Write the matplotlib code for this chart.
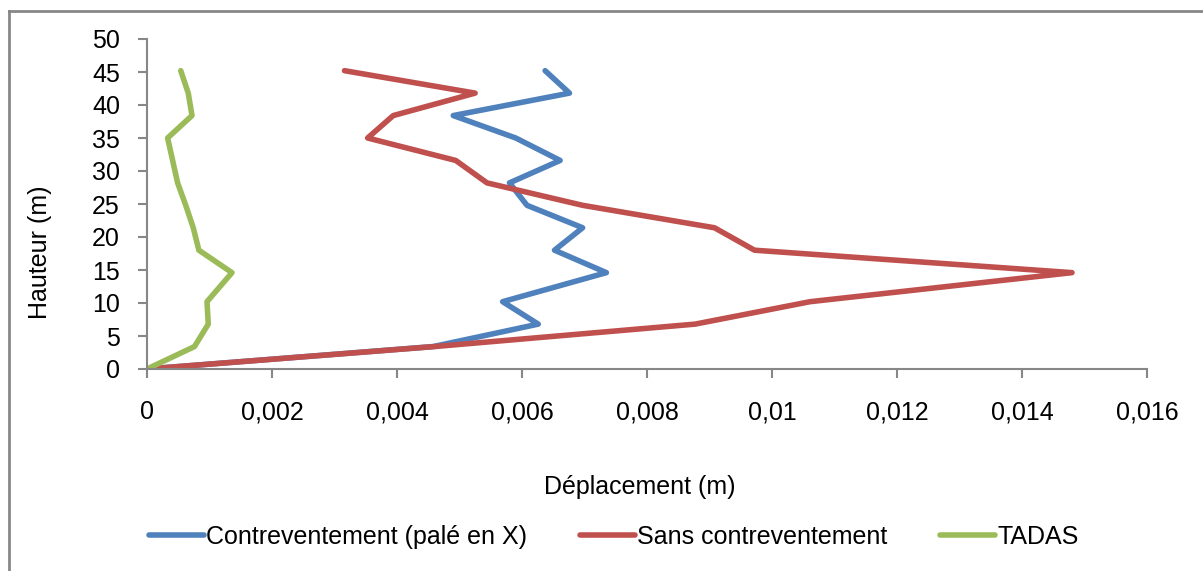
import matplotlib
matplotlib.use("Agg")
from matplotlib import pyplot as plt
from matplotlib.lines import Line2D
from matplotlib.ticker import FuncFormatter

# storey heights (m)
hauteur = [0, 3.4, 6.8, 10.2, 14.6, 18.0, 21.4, 24.8, 28.2, 31.6, 35.0, 38.4, 41.8, 45.2]

# lateral displacement (m) per series
depl_x = [0, 0.00458, 0.00626, 0.00569, 0.00735, 0.00652, 0.00697, 0.00608,
          0.00580, 0.00661, 0.00590, 0.00490, 0.00676, 0.00637]
depl_sans = [0, 0.00460, 0.00877, 0.01061, 0.01480, 0.00972, 0.00908, 0.00697,
             0.00544, 0.00494, 0.00353, 0.00394, 0.00525, 0.00316]
depl_tadas = [0, 0.00076, 0.00098, 0.00096, 0.00136, 0.00083, 0.00074, 0.00062,
              0.00049, 0.00041, 0.00033, 0.00072, 0.00066, 0.00054]

series_names = ["Contreventement (palé en X)", "Sans contreventement", "TADAS"]
colors = ["#4F81BD", "#C0504D", "#9BBB59"]

plt.rcParams['font.family'] = ['Liberation Sans', 'DejaVu Sans']
fs = 18
grey = "#878787"

fig = plt.figure(figsize=(12.03, 5.71), dpi=100)
ax = fig.add_axes([147 / 1203, 1 - 369 / 571, 1000 / 1203, 330 / 571])

for xs, name, c in zip([depl_x, depl_sans, depl_tadas], series_names, colors):
    ax.plot(xs, hauteur, color=c, lw=4, label=name,
            solid_joinstyle="round", solid_capstyle="round")

ax.set_xlim(0, 0.016)
ax.set_ylim(0, 50)
ax.set_xticks([i * 0.002 for i in range(9)])
ax.set_yticks(range(0, 51, 5))
ax.xaxis.set_major_formatter(FuncFormatter(lambda v, p: ("%g" % round(v, 4)).replace(".", ",")))

for s in ["top", "right"]:
    ax.spines[s].set_visible(False)
for s in ["left", "bottom"]:
    ax.spines[s].set_color(grey)
    ax.spines[s].set_linewidth(1.5)
ax.tick_params(axis="both", colors=grey, length=6.5, width=1.5, labelcolor="black",
               labelsize=fs)
ax.tick_params(axis="y", pad=13)
ax.tick_params(axis="x", pad=16)

ax.set_xlabel("Déplacement (m)", fontsize=fs)
ax.xaxis.set_label_coords(0.493, -0.358)
ax.xaxis.label.set_va("center")
ax.set_ylabel("Hauteur (m)", fontsize=fs)
ax.yaxis.set_label_coords(-0.107, 0.355)
ax.yaxis.label.set_va("center")

fig.legend(loc="center", bbox_to_anchor=(614 / 1203, 1 - 537 / 571), ncol=3,
           frameon=False, fontsize=fs, handlelength=2.2, handletextpad=0.1,
           columnspacing=2.1)

# chart area border (left and top edges visible)
fig.add_artist(Line2D([8.5 / 1203, 8.5 / 1203], [0, 1 - 10.5 / 571],
                      transform=fig.transFigure, color=grey, lw=2))
fig.add_artist(Line2D([8.5 / 1203, 1], [1 - 10.5 / 571, 1 - 10.5 / 571],
                      transform=fig.transFigure, color=grey, lw=2))

fig.savefig("out.png", dpi=100)
